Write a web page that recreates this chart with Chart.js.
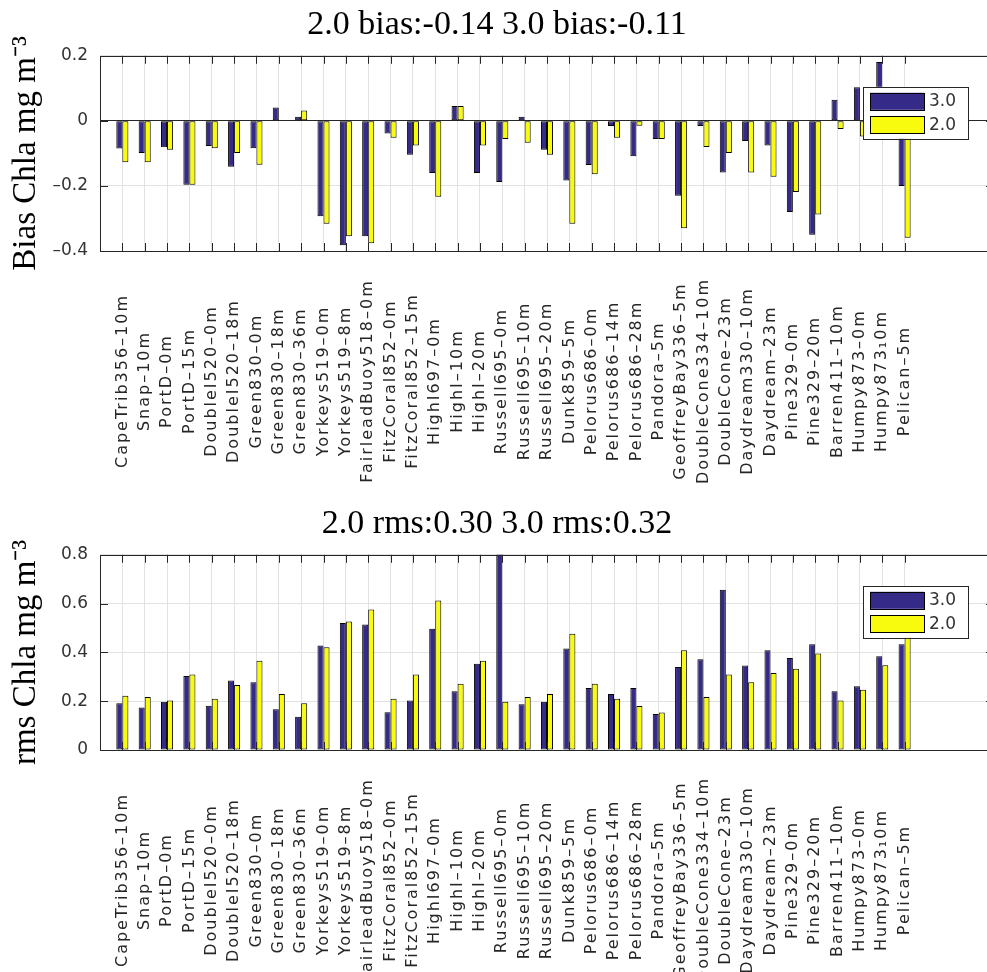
<!DOCTYPE html>
<html>
<head>
<meta charset="utf-8">
<script src="https://cdn.jsdelivr.net/npm/chart.js@4"></script>
<style>
  body { margin: 0; overflow: hidden; background: #fff; }
  canvas { display: block; }
</style>
</head>
<body>
<div style="width:1000px">
  <canvas id="biasChart" width="1000" height="499"></canvas>
  <canvas id="rmsChart" width="1000" height="473"></canvas>
</div>
<script>
// Stations (x categories)
const stations = ['CapeTrib356–10m', 'Snap–10m', 'PortD–0m', 'PortD–15m', 'DoubleI520–0m', 'DoubleI520–18m',
  'Green830–0m', 'Green830–18m', 'Green830–36m', 'Yorkeys519–0m', 'Yorkeys519–8m', 'FairleadBuoy518–0m',
  'FitzCoral852–0m', 'FitzCoral852–15m', 'HighI697–0m', 'HighI–10m', 'HighI–20m', 'Russell695–0m',
  'Russell695–10m', 'Russell695–20m', 'Dunk859–5m', 'Pelorus686–0m', 'Pelorus686–14m', 'Pelorus686–28m',
  'Pandora–5m', 'GeoffreyBay336–5m', 'DoubleCone334–10m', 'DoubleCone–23m', 'Daydream330–10m', 'Daydream–23m',
  'Pine329–0m', 'Pine329–20m', 'Barren411–10m', 'Humpy873–0m', 'Humpy873₁0m', 'Pelican–5m'];

const seriesNames = ['3.0', '2.0'];

// Bias (mg m-3)
const bias30 = [-0.085, -0.099, -0.081, -0.196, -0.077, -0.141, -0.084, 0.041, 0.013, -0.293, -0.382, -0.355,
  -0.039, -0.104, -0.160, 0.046, -0.160, -0.188, 0.013, -0.089, -0.183, -0.136, -0.016, -0.109,
  -0.056, -0.230, -0.016, -0.159, -0.062, -0.076, -0.280, -0.350, 0.065, 0.103, 0.181, -0.200];
const bias20 = [-0.127, -0.127, -0.089, -0.196, -0.084, -0.099, -0.135, 0.002, 0.032, -0.316, -0.355, -0.376,
  -0.052, -0.076, -0.233, 0.046, -0.076, -0.056, -0.067, -0.104, -0.316, -0.164, -0.052, -0.015,
  -0.056, -0.330, -0.080, -0.099, -0.159, -0.172, -0.219, -0.288, -0.025, -0.048, -0.030, -0.359];

// RMS (mg m-3)
const rms30 = [0.192, 0.174, 0.198, 0.303, 0.181, 0.285, 0.278, 0.167, 0.136, 0.428, 0.521, 0.514,
  0.155, 0.203, 0.497, 0.241, 0.353, 0.830, 0.187, 0.198, 0.416, 0.254, 0.229, 0.254,
  0.148, 0.340, 0.372, 0.657, 0.346, 0.409, 0.377, 0.433, 0.241, 0.261, 0.384, 0.433];
const rms20 = [0.222, 0.217, 0.203, 0.309, 0.210, 0.266, 0.366, 0.229, 0.192, 0.421, 0.527, 0.576,
  0.210, 0.309, 0.613, 0.272, 0.366, 0.198, 0.217, 0.229, 0.476, 0.272, 0.210, 0.180,
  0.154, 0.409, 0.217, 0.309, 0.278, 0.316, 0.333, 0.396, 0.203, 0.247, 0.347, 0.470];

const biasTicks = [-0.4, -0.2, 0, 0.2];
const rmsTicks = [0, 0.2, 0.4, 0.6, 0.8];

const colors = ['#352a87', '#f9fb0e'];
const axisColor = '#262626';

// pad one empty slot before and four after, like xlim [0 40]
const labels = ['', ...stations, '', '', '', ''];
const pad = arr => [null, ...arr, null, null, null, null];

// Frame, inward ticks, rotated station names and legend box
const matlabAxes = {
  id: 'matlabAxes',
  afterDraw(chart) {
    const { ctx, chartArea: a, scales: { x, y } } = chart;
    ctx.save();
    ctx.strokeStyle = axisColor;
    ctx.lineWidth = 1;
    ctx.strokeRect(Math.round(a.left) + 0.5, Math.round(a.top) + 0.5,
      Math.round(a.right - a.left), Math.round(a.bottom - a.top));

    ctx.beginPath();
    stations.forEach((s, i) => {
      const px = Math.round(x.getPixelForValue(i + 1)) + 0.5;
      ctx.moveTo(px, a.top); ctx.lineTo(px, a.top + 8);
      ctx.moveTo(px, a.bottom); ctx.lineTo(px, a.bottom - 8);
    });
    y.ticks.forEach(t => {
      const py = Math.round(y.getPixelForValue(t.value)) + 0.5;
      ctx.moveTo(a.left, py); ctx.lineTo(a.left + 8, py);
      ctx.moveTo(a.right, py); ctx.lineTo(a.right - 8, py);
    });
    ctx.stroke();

    // station names, centred on a common line below the axis
    ctx.fillStyle = axisColor;
    ctx.font = '16px "DejaVu Sans"';
    ctx.letterSpacing = '2px';
    ctx.textAlign = 'center';
    ctx.textBaseline = 'middle';
    stations.forEach((s, i) => {
      ctx.save();
      ctx.translate(x.getPixelForValue(i + 1), a.bottom + 130);
      ctx.rotate(-Math.PI / 2);
      ctx.fillText(s, 0, 0);
      ctx.restore();
    });
    ctx.letterSpacing = '0px';

    // legend
    const lx = a.right - 131;
    const ly = a.top + 31;
    ctx.fillStyle = '#fff';
    ctx.fillRect(lx, ly, 105, 52);
    ctx.strokeStyle = axisColor;
    ctx.strokeRect(Math.round(lx) + 0.5, Math.round(ly) + 0.5, 105, 52);
    ctx.font = '17px "DejaVu Sans"';
    ctx.textAlign = 'left';
    chart.data.datasets.forEach((ds, k) => {
      const sy = ly + 6 + k * 23.5;
      ctx.fillStyle = ds.backgroundColor;
      ctx.fillRect(lx + 7, sy, 54, 17);
      ctx.strokeStyle = '#000';
      ctx.strokeRect(Math.round(lx + 7) + 0.5, Math.round(sy) + 0.5, 54, 17);
      ctx.fillStyle = '#333';
      ctx.fillText(ds.label, lx + 66, sy + 9);
    });
    ctx.restore();
  }
};

function makeChart(id, title, yTitle, s30, s20, ticks, zeroLine) {
  const canvas = document.getElementById(id);
  const H = canvas.height;
  return new Chart(canvas.getContext('2d'), {
    type: 'bar',
    data: {
      labels: labels,
      datasets: [
        { label: seriesNames[0], data: pad(s30), backgroundColor: colors[0] },
        { label: seriesNames[1], data: pad(s20), backgroundColor: colors[1] }
      ]
    },
    options: {
      responsive: false,
      animation: false,
      devicePixelRatio: 1,
      layout: { padding: { left: 0, right: 6, top: 0, bottom: 0 } },
      datasets: {
        bar: {
          categoryPercentage: 0.54,
          barPercentage: 1.0,
          borderColor: '#000',
          borderWidth: 1,
          borderSkipped: false,
          inflateAmount: 0
        }
      },
      plugins: {
        legend: { display: false },
        tooltip: { enabled: false },
        title: {
          display: true,
          text: title,
          color: '#000',
          font: { family: '"Liberation Serif"', size: 34, weight: 'normal' },
          padding: { top: 5, bottom: 10 }
        }
      },
      scales: {
        x: {
          type: 'category',
          offset: false,
          grid: {
            offset: false,
            drawTicks: false,
            color: c => (c.tick && c.tick.label !== '' && c.index > 0 && c.index <= stations.length) ? '#e2e2e2' : 'rgba(0,0,0,0)'
          },
          border: { display: false },
          ticks: { display: false, autoSkip: false },
          afterFit: s => { s.height = H - 251; }
        },
        y: {
          min: ticks[0],
          max: ticks[ticks.length - 1],
          afterBuildTicks: s => { s.ticks = ticks.map(v => ({ value: v })); },
          grid: {
            drawTicks: false,
            color: c => (zeroLine && c.tick && Math.abs(c.tick.value) < 1e-9) ? axisColor : '#e2e2e2'
          },
          border: { display: false },
          ticks: {
            padding: 12,
            color: '#333',
            font: { family: '"DejaVu Sans"', size: 17 },
            callback: v => Math.abs(v) < 1e-9 ? '0' : (v < 0 ? '–' : '') + Math.abs(v).toFixed(1)
          },
          title: {
            display: true,
            text: yTitle,
            color: '#000',
            font: { family: '"Liberation Serif"', size: 33, weight: 'normal' },
            padding: { top: 7, bottom: 0 }
          },
          afterFit: s => { s.width = 100; }
        }
      }
    },
    plugins: [matlabAxes]
  });
}

makeChart('biasChart', '2.0 bias:-0.14 3.0 bias:-0.11', 'Bias Chla mg m⁻³', bias30, bias20, biasTicks, true);
makeChart('rmsChart', '2.0 rms:0.30 3.0 rms:0.32', 'rms Chla mg m⁻³', rms30, rms20, rmsTicks, false);
</script>
</body>
</html>
